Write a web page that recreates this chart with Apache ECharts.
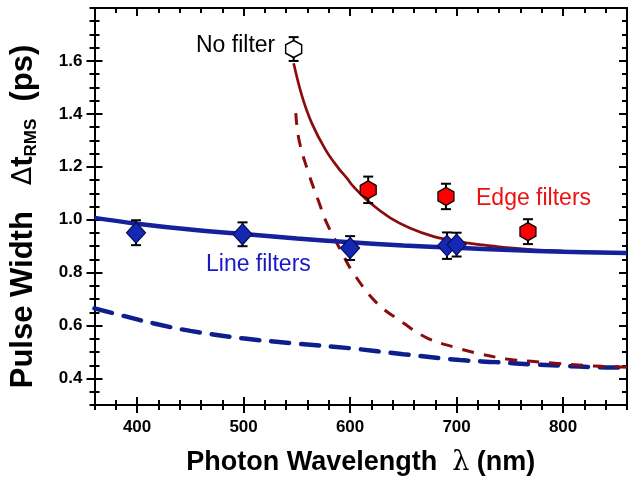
<!DOCTYPE html>
<html>
<head>
<meta charset="utf-8">
<script src="https://cdn.jsdelivr.net/npm/echarts@6/dist/echarts.min.js"></script>
<style>
html,body{margin:0;padding:0;background:#fff;}
#main{width:632px;height:481px;}
</style>
</head>
<body>
<div id="main"></div>
<script>
// ---- data ----
const xTicks = [400, 500, 600, 700, 800];
const yTicks = [0.4, 0.6, 0.8, 1.0, 1.2, 1.4, 1.6];

const lineFilterX = [399, 499, 600, 691, 700];
const lineFilterY = [0.951, 0.945, 0.893, 0.902, 0.906];
const lineFilterErr = [0.047, 0.045, 0.045, 0.05, 0.045];

const edgeFilterX = [617, 690, 767];
const edgeFilterY = [1.113, 1.088, 0.955];
const edgeFilterErr = [0.05, 0.048, 0.047];

const noFilterX = [547];
const noFilterY = [1.645];
const noFilterErr = [0.045];

const lineFitX = [360, 400, 450, 500, 550, 600, 650, 700, 750, 800, 860];
const lineFitY = [1.007, 0.985, 0.963, 0.946, 0.929, 0.915, 0.903, 0.894, 0.886, 0.879, 0.874];

const lineTheoryX = [360, 386, 416, 450, 499, 550, 601, 650, 703, 737, 768, 800, 831, 860];
const lineTheoryY = [0.665, 0.638, 0.608, 0.58, 0.552, 0.532, 0.514, 0.492, 0.47, 0.462, 0.454, 0.448, 0.443, 0.441];

const edgeFitX = [547, 555, 564, 577, 589, 597, 603, 619, 638, 656, 678, 700, 722, 744, 781, 820, 860];
const edgeFitY = [1.591, 1.465, 1.365, 1.264, 1.195, 1.157, 1.126, 1.063, 1.006, 0.969, 0.937, 0.918, 0.906, 0.896, 0.884, 0.879, 0.875];

const edgeTheoryX = [549, 552, 561, 571, 578, 591, 603, 625, 650, 672, 700, 722, 747, 770, 795, 818, 837, 860];
const edgeTheoryY = [1.403, 1.302, 1.176, 1.063, 0.988, 0.886, 0.799, 0.686, 0.61, 0.554, 0.516, 0.493, 0.474, 0.465, 0.457, 0.45, 0.446, 0.443];

// ---- helpers ----
const zip = (xs, ys) => xs.map((x, i) => [x, ys[i]]);
const zip3 = (xs, ys, es) => xs.map((x, i) => [x, ys[i], es[i]]);

const chart = echarts.init(document.getElementById('main'), null, {renderer: 'canvas'});

const X_MIN = 360, X_MAX = 860, Y_MIN = 0.3, Y_MAX = 1.8;
const black = '#000';
const FONT = 'Liberation Sans, Arial, sans-serif';
const tickFont = {fontFamily: FONT, fontWeight: 'bold', fontSize: 17, color: black};

function xAx(opts) {
  return Object.assign({
    type: 'value', min: X_MIN, max: X_MAX, gridIndex: 0,
    splitLine: {show: false},
    axisLine: {show: false},
    axisLabel: {show: false},
    axisTick: {show: false}
  }, opts);
}
function yAx(opts) {
  return Object.assign({
    type: 'value', min: Y_MIN, max: Y_MAX, gridIndex: 0,
    splitLine: {show: false},
    axisLine: {show: false},
    axisLabel: {show: false},
    axisTick: {show: false}
  }, opts);
}

const errRender = function (params, api) {
  const x = api.value(0), y = api.value(1), e = api.value(2);
  const t = api.coord([x, y + e]);
  const b = api.coord([x, y - e]);
  const w = 5;
  const st = {stroke: black, lineWidth: 2};
  return {
    type: 'group',
    children: [
      {type: 'line', shape: {x1: t[0], y1: t[1], x2: b[0], y2: b[1]}, style: st},
      {type: 'line', shape: {x1: t[0] - w, y1: t[1], x2: t[0] + w, y2: t[1]}, style: st},
      {type: 'line', shape: {x1: b[0] - w, y1: b[1], x2: b[0] + w, y2: b[1]}, style: st}
    ]
  };
};

const hexPath = 'path://M0,-1 L0.866,-0.5 L0.866,0.5 L0,1 L-0.866,0.5 L-0.866,-0.5 Z';
const SMOOTH = 0.4;

const option = {
  backgroundColor: '#fff',
  animation: false,
  grid: {left: 93, right: 5, top: 8, bottom: 75.5, containLabel: false},
  xAxis: [
    xAx({position: 'bottom', interval: 20,
      axisLine: {show: true, lineStyle: {color: black, width: 2}},
      axisTick: {show: true, length: 5, lineStyle: {color: black, width: 2}}}),
    xAx({position: 'bottom', interval: 20,
      axisTick: {show: true, inside: true, length: 5, lineStyle: {color: black, width: 2}}}),
    xAx({position: 'bottom',
      axisTick: {show: true, length: 8, customValues: xTicks, lineStyle: {color: black, width: 2}},
      axisLabel: Object.assign({show: true, margin: 14, customValues: xTicks, formatter: v => String(v)}, tickFont),
      name: '{b|Photon Wavelength  }{n|λ}{b| (nm)}',
      nameLocation: 'middle', nameGap: 44,
      nameTextStyle: {
        rich: {
          b: {fontFamily: FONT, fontWeight: 'bold', fontSize: 27, color: black},
          n: {fontFamily: 'DejaVu Serif, serif', fontWeight: 'normal', fontSize: 27, color: black}
        }
      }}),
    xAx({position: 'bottom',
      axisTick: {show: true, inside: true, length: 8, customValues: xTicks, lineStyle: {color: black, width: 2}}}),
    xAx({position: 'top', interval: 20,
      axisLine: {show: true, lineStyle: {color: black, width: 2}},
      axisTick: {show: true, inside: true, length: 5, lineStyle: {color: black, width: 2}}}),
    xAx({position: 'top',
      axisTick: {show: true, inside: true, length: 8, customValues: xTicks, lineStyle: {color: black, width: 2}}})
  ],
  yAxis: [
    yAx({position: 'left', interval: 0.05,
      axisLine: {show: true, lineStyle: {color: black, width: 2}},
      axisTick: {show: true, length: 5, lineStyle: {color: black, width: 2}}}),
    yAx({position: 'left', interval: 0.05,
      axisTick: {show: true, inside: true, length: 5, lineStyle: {color: black, width: 2}}}),
    yAx({position: 'left',
      axisTick: {show: true, length: 8, customValues: yTicks, lineStyle: {color: black, width: 2}},
      axisLabel: Object.assign({show: true, margin: 12, customValues: yTicks, formatter: v => v.toFixed(1)}, tickFont),
      name: '{b|Pulse Width   }{n|Δ}{b|t}{s|RMS}{b|  (ps)}',
      nameLocation: 'middle', nameGap: 55, nameRotate: 90,
      nameTextStyle: {
        padding: [0, 20, 0, 0],
        rich: {
          b: {fontFamily: FONT, fontWeight: 'bold', fontSize: 31, color: black, lineHeight: 32},
          n: {fontFamily: 'DejaVu Sans, sans-serif', fontWeight: 'normal', fontSize: 27, color: black, lineHeight: 32},
          s: {fontFamily: FONT, fontWeight: 'bold', fontSize: 17, color: black, lineHeight: 32, verticalAlign: 'bottom', padding: [12, 0, 0, 0]}
        }
      }}),
    yAx({position: 'left',
      axisTick: {show: true, inside: true, length: 8, customValues: yTicks, lineStyle: {color: black, width: 2}}}),
    yAx({position: 'right', interval: 0.05,
      axisLine: {show: true, lineStyle: {color: black, width: 2}},
      axisTick: {show: true, inside: true, length: 5, lineStyle: {color: black, width: 2}}}),
    yAx({position: 'right',
      axisTick: {show: true, inside: true, length: 8, customValues: yTicks, lineStyle: {color: black, width: 2}}})
  ],
  series: [
    {type: 'line', name: 'line theory', data: zip(lineTheoryX, lineTheoryY), smooth: SMOOTH,
      showSymbol: false, symbol: 'none', clip: true,
      lineStyle: {color: '#0c1f8c', width: 4.5, type: [18, 12], cap: 'round'}, z: 2},
    {type: 'line', name: 'edge theory', data: zip(edgeTheoryX, edgeTheoryY), smooth: SMOOTH,
      showSymbol: false, symbol: 'none', clip: true,
      lineStyle: {color: '#8a0c0c', width: 3, type: [12, 10]}, z: 2},
    {type: 'line', name: 'edge fit', data: zip(edgeFitX, edgeFitY), smooth: SMOOTH,
      showSymbol: false, symbol: 'none', clip: true,
      lineStyle: {color: '#8a0c0c', width: 2.7}, z: 3},
    {type: 'line', name: 'line fit', data: zip(lineFitX, lineFitY), smooth: SMOOTH,
      showSymbol: false, symbol: 'none', clip: true,
      lineStyle: {color: '#14219a', width: 4.5}, z: 4},
    {type: 'custom', name: 'err line', renderItem: errRender, data: zip3(lineFilterX, lineFilterY, lineFilterErr), z: 5},
    {type: 'custom', name: 'err edge', renderItem: errRender, data: zip3(edgeFilterX, edgeFilterY, edgeFilterErr), z: 5},
    {type: 'custom', name: 'err none', renderItem: errRender, data: zip3(noFilterX, noFilterY, noFilterErr), z: 5},
    {type: 'scatter', name: 'Line filters', data: zip(lineFilterX, lineFilterY), symbol: 'diamond', symbolSize: [19, 21],
      itemStyle: {color: '#1428b4', borderColor: '#06105a', borderWidth: 1.2, opacity: 1}, z: 6},
    {type: 'scatter', name: 'Edge filters', data: zip(edgeFilterX, edgeFilterY), symbol: hexPath, symbolSize: [16, 18],
      itemStyle: {color: '#ff0000', borderColor: black, borderWidth: 1.3, opacity: 1}, z: 6},
    {type: 'scatter', name: 'No filter', data: zip(noFilterX, noFilterY), symbol: hexPath, symbolSize: [16, 17],
      itemStyle: {color: '#ffffff', borderColor: black, borderWidth: 1.5, opacity: 1}, z: 6}
  ],
  graphic: [
    {type: 'text', left: 196, top: 34, style: {text: 'No filter', fill: '#000', font: '23px "Liberation Sans", Arial, sans-serif'}},
    {type: 'text', left: 476, top: 187, style: {text: 'Edge filters', fill: '#ee1111', font: '23px "Liberation Sans", Arial, sans-serif'}},
    {type: 'text', left: 206, top: 253, style: {text: 'Line filters', fill: '#1818c8', font: '23px "Liberation Sans", Arial, sans-serif'}}
  ]
};

chart.setOption(option);
</script>
</body>
</html>
